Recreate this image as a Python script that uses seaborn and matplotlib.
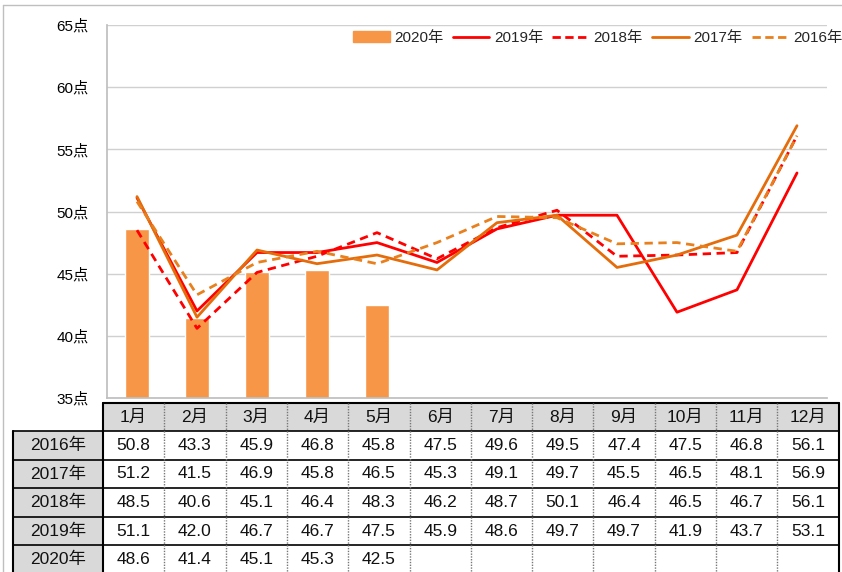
import matplotlib
matplotlib.use('Agg')
import matplotlib.pyplot as plt
from matplotlib.patches import Rectangle, Patch
from matplotlib.lines import Line2D
import pandas as pd
import seaborn as sns

months = ['1月', '2月', '3月', '4月', '5月', '6月', '7月', '8月', '9月', '10月', '11月', '12月']
years = ['2016年', '2017年', '2018年', '2019年', '2020年']
v2016 = [50.8, 43.3, 45.9, 46.8, 45.8, 47.5, 49.6, 49.5, 47.4, 47.5, 46.8, 56.1]
v2017 = [51.2, 41.5, 46.9, 45.8, 46.5, 45.3, 49.1, 49.7, 45.5, 46.5, 48.1, 56.9]
v2018 = [48.5, 40.6, 45.1, 46.4, 48.3, 46.2, 48.7, 50.1, 46.4, 46.5, 46.7, 56.1]
v2019 = [51.1, 42.0, 46.7, 46.7, 47.5, 45.9, 48.6, 49.7, 49.7, 41.9, 43.7, 53.1]
v2020 = [48.6, 41.4, 45.1, 45.3, 42.5]
yticks = [35, 40, 45, 50, 55, 60, 65]

bar_color = '#F79646'
line_colors = {'2019年': '#FF0000', '2018年': '#FF0000', '2017年': '#E46C0A', '2016年': '#E8801E'}
line_dashes = {'2019年': '', '2018年': (3, 2), '2017年': '', '2016年': (3, 2)}

sns.set_theme(style='white')
plt.rcParams['font.family'] = ['Liberation Sans', 'Noto Sans CJK JP']

W, H = 842, 572
fig = plt.figure(figsize=(W / 100, H / 100), dpi=100)

# full-figure overlay in pixel coordinates for the frame and the table
bg = fig.add_axes([0, 0, 1, 1])
bg.set_xlim(0, W)
bg.set_ylim(H, 0)
bg.axis('off')
bg.plot([3, 3], [5, H], color='#BFBFBF', lw=1)
bg.plot([3, W], [5, 5], color='#BFBFBF', lw=1)

# chart
ax = fig.add_axes([107 / W, 1 - 398 / H, 720 / W, 373 / H])
bars = pd.DataFrame({'月': months[:len(v2020)], 'val': v2020})
sns.barplot(data=bars, x='月', y='val', order=months, color=bar_color,
            width=0.4, saturation=1, ax=ax, zorder=2)

lines = []
for yr, vals in [('2019年', v2019), ('2018年', v2018), ('2017年', v2017), ('2016年', v2016)]:
    for i, v in enumerate(vals):
        lines.append({'pos': i, 'val': v, 'year': yr})
lines = pd.DataFrame(lines)
sns.lineplot(data=lines, x='pos', y='val', hue='year', style='year',
             palette=line_colors, dashes=line_dashes, linewidth=2,
             legend=False, ax=ax, zorder=3)

ax.set_xlim(-0.5, 11.5)
ax.set_ylim(35, 65)
ax.set_yticks(yticks)
ax.set_yticklabels([f'{t}点' for t in yticks], fontsize=11, color='black')
ax.tick_params(axis='y', length=0, pad=13)
ax.set_xticks([])
ax.set_xlabel('')
ax.set_ylabel('')
ax.grid(axis='y', color='#D0D0D0', lw=1)
ax.set_axisbelow(True)
for s in ['top', 'right']:
    ax.spines[s].set_visible(False)
ax.spines['left'].set_color('#BFBFBF')
ax.spines['bottom'].set_color('#BFBFBF')

handles = [Patch(color=bar_color)]
labels = ['2020年']
for yr in ['2019年', '2018年', '2017年', '2016年']:
    ls = '-' if line_dashes[yr] == '' else (0, (3, 1.6))
    handles.append(Line2D([], [], color=line_colors[yr], lw=2, linestyle=ls))
    labels.append(yr)
fig.legend(handles, labels, loc='center right', bbox_to_anchor=(1.0, 1 - 38 / H),
           ncol=5, frameon=False, fontsize=11, handlelength=2.4,
           handletextpad=0.3, columnspacing=0.6, borderaxespad=0, borderpad=0)

# data table below the chart
x0, cw = 103, 61.3
lab_x0 = 13
row_top = [403, 431, 460, 488, 517, 545]
row_bot = row_top[1:] + [H + 2]
grey = '#D9D9D9'
tfont = dict(family=['Liberation Sans', 'Noto Sans CJK JP'], fontsize=12.5, color='#111111')

# header
for j, m in enumerate(months):
    bg.add_patch(Rectangle((x0 + j * cw, row_top[0]), cw, row_bot[0] - row_top[0],
                           facecolor=grey, edgecolor='none'))
    bg.text(x0 + (j + 0.5) * cw, (row_top[0] + row_bot[0]) / 2, m,
            ha='center', va='center', **tfont)

series = [v2016, v2017, v2018, v2019, v2020]
for i, (yr, vals) in enumerate(zip(years, series)):
    r0, r1 = row_top[i + 1], row_bot[i + 1]
    bg.add_patch(Rectangle((lab_x0, r0), x0 - lab_x0, r1 - r0, facecolor=grey, edgecolor='none'))
    bg.text((lab_x0 + x0) / 2, (r0 + r1) / 2, yr, ha='center', va='center', **tfont)
    for j, v in enumerate(vals):
        bg.text(x0 + (j + 0.5) * cw, (r0 + r1) / 2, f'{v:.1f}',
                ha='center', va='center', **tfont)

xr = x0 + 12 * cw
# horizontal rules
bg.plot([x0, xr], [row_top[0], row_top[0]], color='black', lw=1.5)
for k in range(1, 6):
    bg.plot([lab_x0, xr], [row_top[k], row_top[k]], color='black', lw=1.2)
# vertical rules
bg.plot([lab_x0, lab_x0], [row_top[1], H], color='black', lw=1.5)
bg.plot([x0, x0], [row_top[0], H], color='black', lw=1.5)
bg.plot([xr, xr], [row_top[0], H], color='black', lw=1.5)
for j in range(1, 12):
    xx = x0 + j * cw
    bg.plot([xx, xx], [row_top[0], H], color='#777777', lw=1, linestyle=(0, (1, 1)))

plt.savefig('out.png', dpi=100)
